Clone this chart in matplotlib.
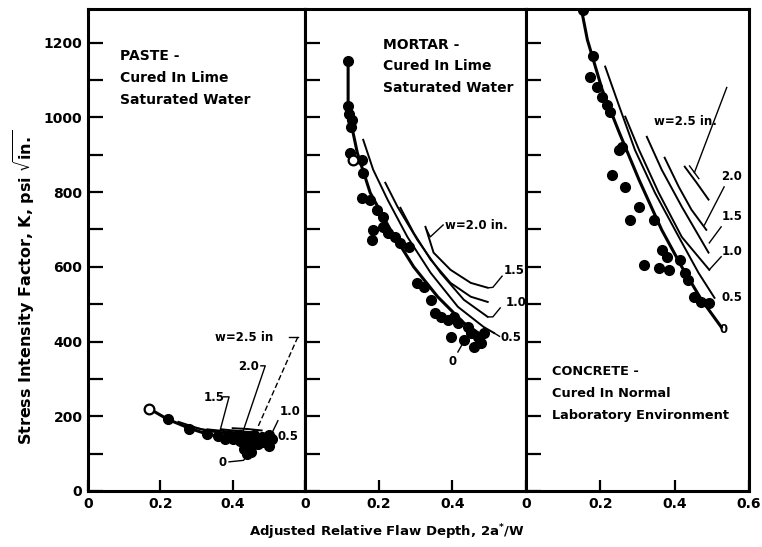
import matplotlib.pyplot as plt

plt.rcParams['font.family'] = 'DejaVu Sans'
plt.rcParams['font.weight'] = 'bold'

# ---- PASTE (cured in lime saturated water) ----
paste_x = [0.22, 0.28, 0.33, 0.36, 0.38, 0.39, 0.40, 0.41, 0.42, 0.42, 0.43, 0.44,
           0.44, 0.45, 0.45, 0.46, 0.46, 0.47, 0.47, 0.48, 0.48, 0.49, 0.50, 0.50,
           0.51, 0.43, 0.44, 0.45]
paste_y = [192, 165, 152, 148, 140, 146, 138, 148, 135, 150, 142, 128,
           148, 118, 140, 130, 150, 138, 125, 145, 132, 140, 120, 150,
           138, 112, 100, 105]
paste_open_x = [0.17]
paste_open_y = [220]
paste_w0_x = [0.17, 0.22, 0.28, 0.33, 0.38, 0.43, 0.48, 0.51]
paste_w0_y = [220, 192, 168, 152, 143, 135, 128, 122]
paste_w05_x = [0.25, 0.32, 0.40, 0.50]
paste_w05_y = [185, 163, 150, 140]
paste_w10_x = [0.30, 0.36, 0.43, 0.50]
paste_w10_y = [168, 158, 150, 148]
paste_w15_x = [0.33, 0.38, 0.44, 0.49]
paste_w15_y = [165, 160, 153, 150]
paste_w20_x = [0.37, 0.42, 0.47]
paste_w20_y = [165, 160, 156]
paste_w25_x = [0.40, 0.44, 0.48]
paste_w25_y = [168, 166, 162]

# ---- MORTAR (cured in lime saturated water) ----
mortar_x = [0.117, 0.117, 0.120, 0.125, 0.128, 0.123, 0.155, 0.158, 0.155, 0.177,
            0.196, 0.213, 0.185, 0.183, 0.213, 0.226, 0.245, 0.259, 0.281, 0.305,
            0.322, 0.341, 0.354, 0.368, 0.387, 0.404, 0.415, 0.395, 0.442, 0.450,
            0.469, 0.477, 0.485, 0.431, 0.458]
mortar_y = [1150, 1030, 1010, 975, 994, 905, 887, 852, 785, 780,
            753, 734, 699, 672, 707, 691, 680, 664, 654, 557,
            546, 512, 477, 466, 458, 466, 450, 413, 439, 423,
            413, 396, 423, 404, 386]
mortar_open_x = [0.131]
mortar_open_y = [887]
mortar_w0_x = [0.117, 0.117, 0.123, 0.142, 0.177, 0.232, 0.295, 0.360, 0.431, 0.485]
mortar_w0_y = [1150, 1030, 994, 905, 798, 699, 600, 520, 450, 413]
mortar_w05_x = [0.158, 0.185, 0.224, 0.278, 0.341, 0.415, 0.485, 0.513]
mortar_w05_y = [940, 860, 780, 680, 584, 493, 439, 423]
mortar_w10_x = [0.218, 0.251, 0.305, 0.368, 0.431, 0.496]
mortar_w10_y = [825, 761, 672, 584, 512, 466]
mortar_w15_x = [0.259, 0.295, 0.341, 0.395, 0.450, 0.496]
mortar_w15_y = [758, 691, 619, 557, 520, 506]
mortar_w20_x = [0.327, 0.349, 0.395, 0.450, 0.496]
mortar_w20_y = [707, 638, 592, 557, 544]

# ---- CONCRETE (cured in normal laboratory environment) ----
concrete_x = [0.152, 0.179, 0.171, 0.192, 0.205, 0.219, 0.227, 0.259, 0.251, 0.232,
              0.267, 0.304, 0.280, 0.344, 0.365, 0.379, 0.317, 0.357, 0.384, 0.413,
              0.427, 0.437, 0.453, 0.472, 0.491]
concrete_y = [1288, 1163, 1109, 1082, 1055, 1034, 1015, 922, 913, 846,
              814, 761, 726, 726, 646, 627, 605, 597, 592, 619,
              584, 565, 520, 506, 504]
concrete_w0_x = [0.144, 0.165, 0.205, 0.251, 0.304, 0.365, 0.419, 0.472, 0.525]
concrete_w0_y = [1315, 1208, 1074, 959, 833, 699, 600, 512, 439]
concrete_w05_x = [0.213, 0.251, 0.293, 0.347, 0.411, 0.464, 0.507]
concrete_w05_y = [1136, 1029, 913, 798, 680, 584, 517]
concrete_w10_x = [0.267, 0.304, 0.357, 0.419, 0.493]
concrete_w10_y = [1002, 913, 798, 680, 592]
concrete_w15_x = [0.325, 0.365, 0.419, 0.491]
concrete_w15_y = [948, 860, 761, 638]
concrete_w20_x = [0.373, 0.411, 0.445, 0.485]
concrete_w20_y = [892, 814, 753, 699]
concrete_w25_x = [0.427, 0.459, 0.491]
concrete_w25_y = [868, 825, 780]

fig = plt.figure(figsize=(7.62, 5.47), dpi=100)
lefts = [0.1155, 0.4003, 0.6903]
widths = [0.2848, 0.2900, 0.2927]
axes = []
for i in range(3):
    ax = fig.add_axes([lefts[i], 0.1024, widths[i], 0.8811])
    ax.set_xlim(0, 0.6)
    ax.set_ylim(0, 1290)
    for s in ax.spines.values():
        s.set_linewidth(2.2)
    ax.set_yticks(range(0, 1201, 200))
    ax.set_yticks(range(100, 1300, 200), minor=True)
    ax.tick_params(axis='y', which='both', direction='in', length=11, width=1.6,
                   labelsize=10, pad=4)
    if i == 2:
        ax.set_xticks([0, 0.2, 0.4, 0.6])
        ax.set_xticklabels(['0', '0.2', '0.4', '0.6'])
    else:
        ax.set_xticks([0, 0.2, 0.4])
        ax.set_xticklabels(['0', '0.2', '0.4'])
    ax.tick_params(axis='x', direction='in', length=8, width=1.6, labelsize=10, pad=4)
    if i > 0:
        ax.tick_params(axis='y', labelleft=False)
    axes.append(ax)

ax1, ax2, ax3 = axes
dot = dict(marker='o', ls='none', color='black', ms=7, zorder=3)
opn = dict(marker='o', ls='none', mfc='white', mec='black', mew=1.6, ms=7, zorder=4)
lbl = dict(fontsize=8.5, fontweight='bold', va='center', ha='left')

# paste panel
ax1.plot(paste_w0_x, paste_w0_y, color='black', lw=2.2)
for xs, ys in [(paste_w05_x, paste_w05_y), (paste_w10_x, paste_w10_y), (paste_w15_x, paste_w15_y),
               (paste_w20_x, paste_w20_y), (paste_w25_x, paste_w25_y)]:
    ax1.plot(xs, ys, color='black', lw=1.4)
ax1.plot(paste_x, paste_y, **dot)
ax1.plot(paste_open_x, paste_open_y, **opn)
ax1.text(0.35, 410, 'w=2.5 in', **lbl)
ax1.plot([0.555, 0.58], [412, 412], color='black', lw=1)
ax1.plot([0.58, 0.47], [412, 172], color='black', lw=1, ls=(0, (4, 2)))
ax1.text(0.415, 332, '2.0', **lbl)
ax1.plot([0.478, 0.49, 0.428], [335, 335, 158], color='black', lw=1)
ax1.text(0.32, 250, '1.5', **lbl)
ax1.plot([0.375, 0.39, 0.366], [252, 252, 165], color='black', lw=1)
ax1.text(0.53, 212, '1.0', **lbl)
ax1.plot([0.525, 0.505], [188, 148], color='black', lw=1)
ax1.text(0.525, 145, '0.5', **lbl)
ax1.text(0.36, 75, '0', **lbl)
ax1.plot([0.39, 0.43, 0.445], [78, 82, 100], color='black', lw=1)

# mortar panel
ax2.plot(mortar_w0_x, mortar_w0_y, color='black', lw=2.2)
for xs, ys in [(mortar_w05_x, mortar_w05_y), (mortar_w10_x, mortar_w10_y),
               (mortar_w15_x, mortar_w15_y), (mortar_w20_x, mortar_w20_y)]:
    ax2.plot(xs, ys, color='black', lw=1.4)
ax2.plot(mortar_x, mortar_y, **dot)
ax2.plot(mortar_open_x, mortar_open_y, **opn)
ax2.text(0.38, 710, 'w=2.0 in.', **lbl)
ax2.plot([0.375, 0.34, 0.33], [712, 680, 700], color='black', lw=1)
ax2.text(0.54, 590, '1.5', **lbl)
ax2.plot([0.535, 0.51, 0.499], [575, 545, 544], color='black', lw=1)
ax2.text(0.545, 505, '1.0', **lbl)
ax2.plot([0.53, 0.51, 0.499], [490, 466, 466], color='black', lw=1)
ax2.text(0.53, 412, '0.5', **lbl)
ax2.plot([0.528, 0.513], [414, 423], color='black', lw=1)
ax2.text(0.39, 346, '0', **lbl)
ax2.plot([0.415, 0.43], [372, 398], color='black', lw=1)

# concrete panel
ax3.plot(concrete_w0_x, concrete_w0_y, color='black', lw=2.2)
for xs, ys in [(concrete_w05_x, concrete_w05_y), (concrete_w10_x, concrete_w10_y),
               (concrete_w15_x, concrete_w15_y), (concrete_w20_x, concrete_w20_y),
               (concrete_w25_x, concrete_w25_y)]:
    ax3.plot(xs, ys, color='black', lw=1.4)
ax3.plot(concrete_x, concrete_y, **dot)
ax3.text(0.345, 990, 'w=2.5 in.', **lbl)
ax3.plot([0.54, 0.453], [1080, 852], color='black', lw=1)
ax3.plot([0.44, 0.465], [870, 836], color='black', lw=1)
ax3.text(0.525, 841, '2.0', **lbl)
ax3.plot([0.533, 0.48], [814, 712], color='black', lw=1)
ax3.text(0.527, 734, '1.5', **lbl)
ax3.plot([0.525, 0.493], [707, 664], color='black', lw=1)
ax3.text(0.527, 640, '1.0', **lbl)
ax3.plot([0.525, 0.493], [627, 592], color='black', lw=1)
ax3.text(0.527, 517, '0.5', **lbl)
ax3.text(0.52, 431, '0', **lbl)

# panel captions
cap = dict(fontsize=10, fontweight='bold', va='center', ha='left')
for k, line in enumerate(['PASTE -', 'Cured In Lime', 'Saturated Water']):
    ax1.text(0.089, 1163 - 58 * k, line, **cap)
for k, line in enumerate(['MORTAR -', 'Cured In Lime', 'Saturated Water']):
    ax2.text(0.213, 1195 - 58 * k, line, **cap)
for k, line in enumerate(['CONCRETE -', 'Cured In Normal', 'Laboratory Environment']):
    ax3.text(0.07, 319 - 58 * k, line, fontsize=9.3, fontweight='bold', va='center', ha='left')

fig.text(0.031, 0.475, r'Stress Intensity Factor, K, psi $\sqrt{\mathbf{in.}}$',
         rotation=90, ha='center', va='center', fontsize=11.5, fontweight='bold')
fig.text(0.507, 0.027, r'Adjusted Relative Flaw Depth, 2a$^{*}$/W',
         ha='center', va='center', fontsize=9.5, fontweight='bold')

fig.savefig('out.png', dpi=100)
